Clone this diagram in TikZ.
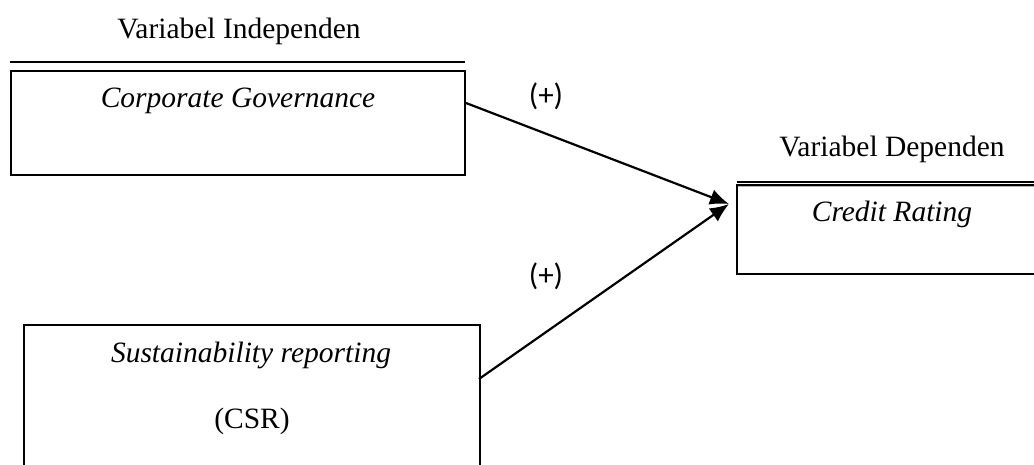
\documentclass[tikz,border=0pt]{standalone}
\usepackage{fontspec}
\setmainfont{Liberation Serif}
\newfontfamily\plusfont{Carlito}
\usetikzlibrary{arrows.meta}
\tikzset{
  boxline/.style={draw=black, line width=2.2pt},
  lbl/.style={font=\fontsize{29.5}{31}\selectfont, anchor=base, inner sep=0pt},
  ilbl/.style={font=\fontsize{29.5}{31}\selectfont\itshape, anchor=base, inner sep=0pt},
  sign/.style={font=\plusfont\fontsize{31}{33}\selectfont, inner sep=0pt},
  conn/.style={line width=2.2pt, -{Latex[length=19pt,width=16pt]}}
}
\begin{document}
\begin{tikzpicture}[x=1pt,y=-1pt]
\useasboundingbox (0,0) rectangle (1034,465);
\begin{scope}
\clip (0,0) rectangle (1034,465);
% top-left group
\node[lbl] (vi) at (239,39) {Variabel Independen};
\draw[line width=2.2pt] (10,62) coordinate (rl) -- (465,62) coordinate (rr);
\node[boxline, minimum width=454pt, minimum height=104pt, inner sep=0pt] (cg) at (238,123) {};
\node[ilbl] (cgt) at (238,108) {Corporate Governance};
% bottom-left group
\node[boxline, minimum width=456pt, minimum height=160pt, inner sep=0pt] (sr) at (252,405) {};
\node[ilbl] (srt) at (251,362) {Sustainability reporting};
\node[lbl] (csr) at (252,428) {(CSR)};
% right group
\node[lbl] (vd) at (892,157) {Variabel Dependen};
\draw[line width=2pt] (737,182) coordinate (dl) -- (1040,182) coordinate (dr);
\draw[line width=0.8pt, gray!60] (737,186) -- (1040,186);
\node[boxline, minimum width=304pt, minimum height=89pt, inner sep=0pt] (cr) at (889,229.5) {};
\node[ilbl] (crt) at (892,222) {Credit Rating};
% connectors
\coordinate (a1) at (466,103);
\coordinate (a2) at (479,379);
\coordinate (tip) at (729,204);
\draw[conn] (a1) -- (tip);
\draw[conn] (a2) -- (tip);
\node[sign] (p1) at (546,96) {(+)};
\node[sign] (p2) at (546,276) {(+)};
\end{scope}
\end{tikzpicture}
\end{document}
